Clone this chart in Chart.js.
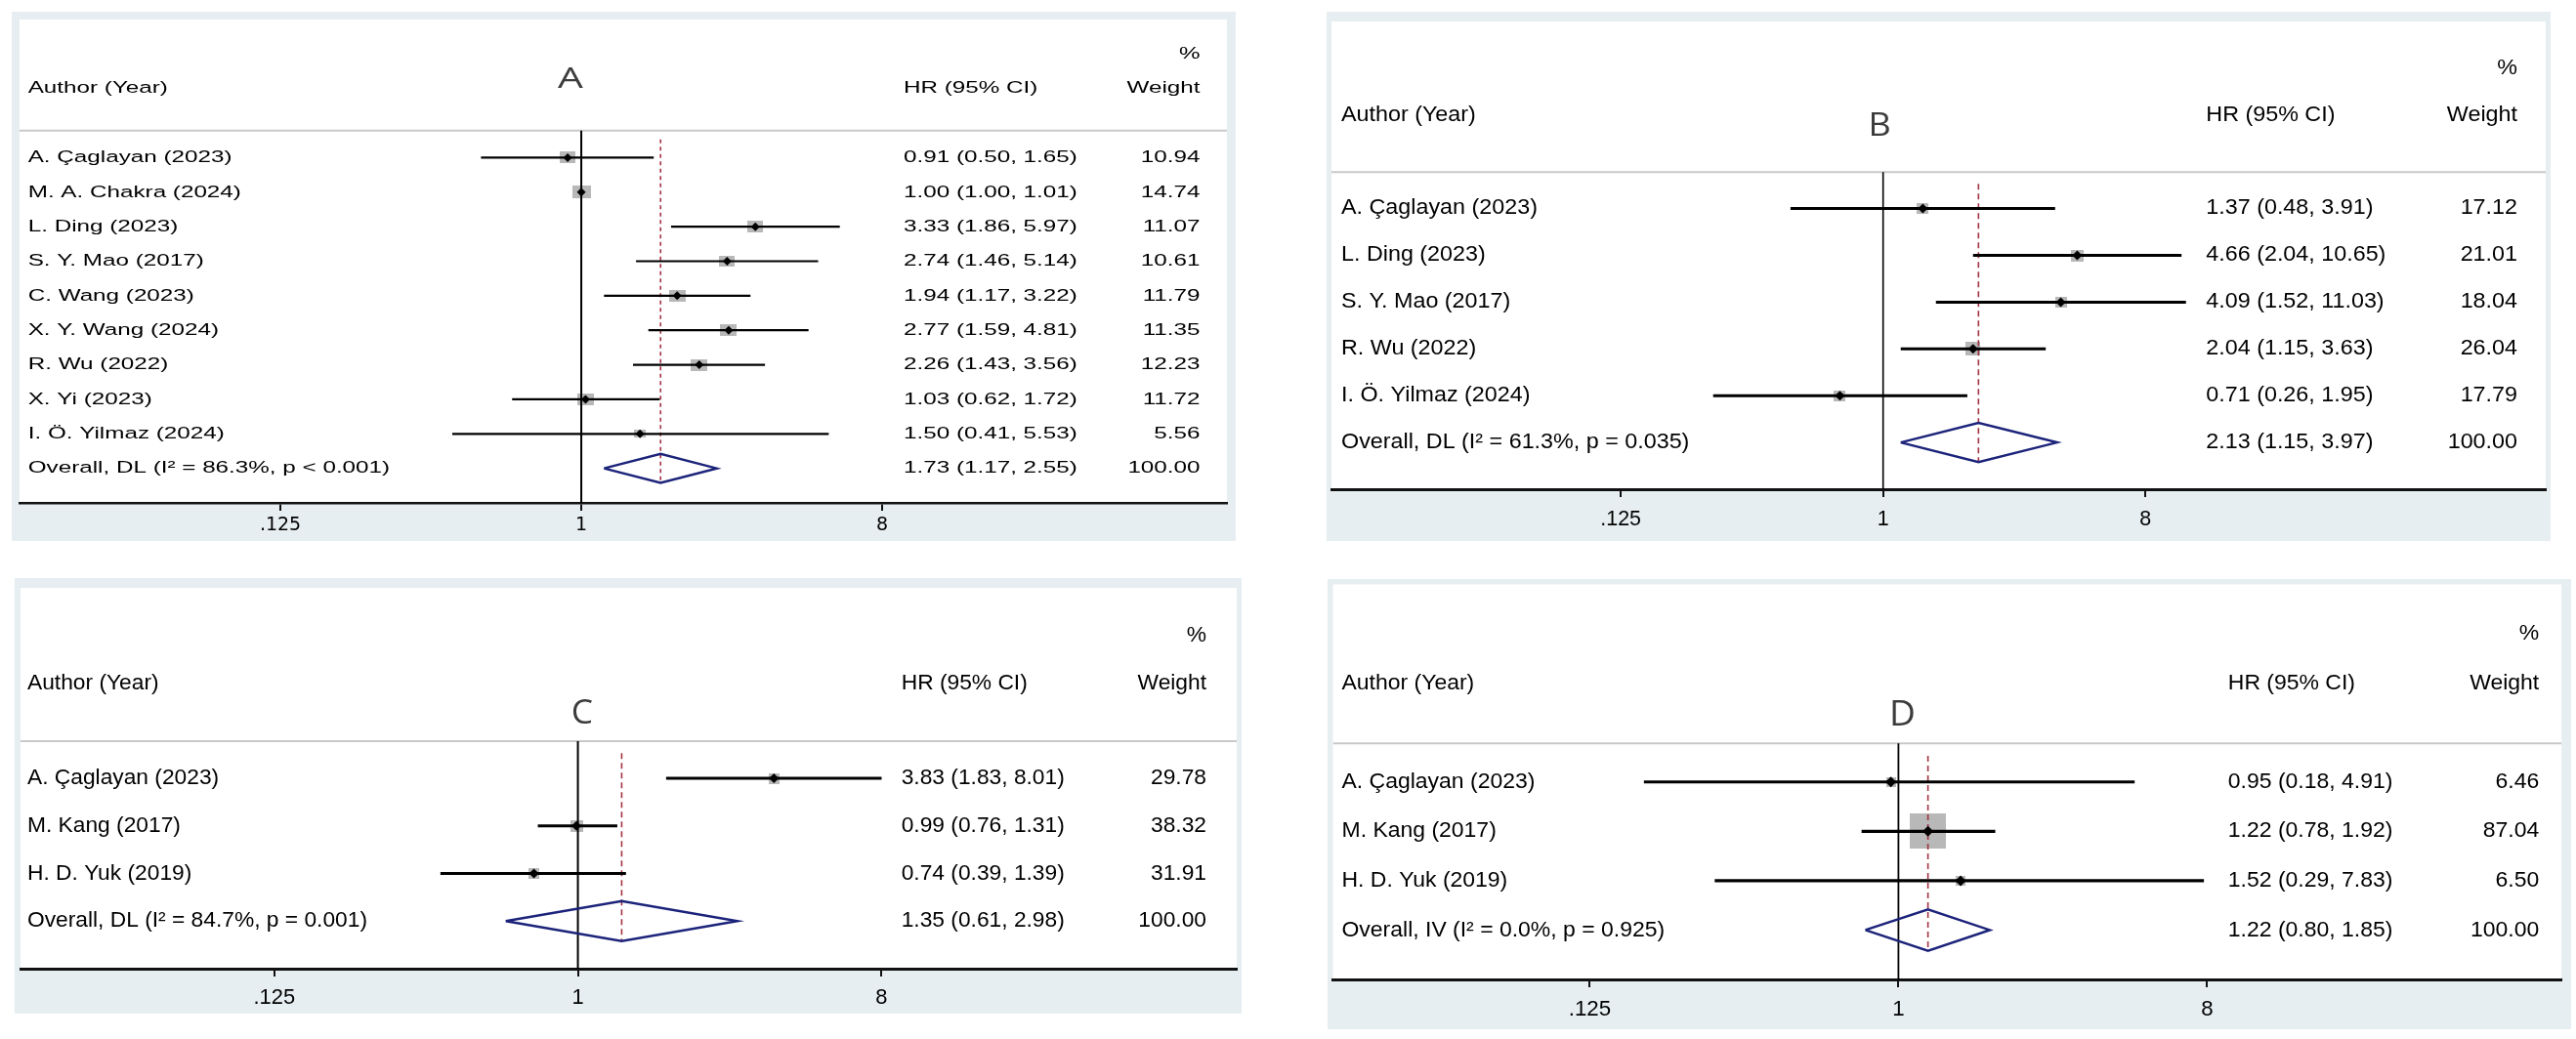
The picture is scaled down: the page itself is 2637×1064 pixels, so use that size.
<!DOCTYPE html>
<html>
<head>
<meta charset="utf-8">
<title>Forest plots A-D</title>
<script src="https://cdn.jsdelivr.net/npm/chart.js@4.4.1/dist/chart.umd.min.js"></script>
<style>
  html, body { margin: 0; padding: 0; background: #fff; }
  body { width: 2637px; height: 1064px; position: relative; overflow: hidden; }
  .panel { position: absolute; background: #e6eef1; }
  .panel canvas { display: block; }
</style>
</head>
<body>
<div class="panel" id="panelA"><canvas id="chartA"></canvas></div>
<div class="panel" id="panelB"><canvas id="chartB"></canvas></div>
<div class="panel" id="panelC"><canvas id="chartC"></canvas></div>
<div class="panel" id="panelD"><canvas id="chartD"></canvas></div>
<script>
// Panel A
const authorsA = ["A. Çaglayan (2023)", "M. A. Chakra (2024)", "L. Ding (2023)", "S. Y. Mao (2017)",
  "C. Wang (2023)", "X. Y. Wang (2024)", "R. Wu (2022)", "X. Yi (2023)", "I. Ö. Yilmaz (2024)"];
const hrA = [0.91, 1.00, 3.33, 2.74, 1.94, 2.77, 2.26, 1.03, 1.50];
const lowA = [0.50, 1.00, 1.86, 1.46, 1.17, 1.59, 1.43, 0.62, 0.41];
const highA = [1.65, 1.01, 5.97, 5.14, 3.22, 4.81, 3.56, 1.72, 5.53];
const weightA = [10.94, 14.74, 11.07, 10.61, 11.79, 11.35, 12.23, 11.72, 5.56];
const pooledA = [1.73, 1.17, 2.55];
const overallA = "Overall, DL (I² = 86.3%, p < 0.001)";

// Panel B
const authorsB = ["A. Çaglayan (2023)", "L. Ding (2023)", "S. Y. Mao (2017)", "R. Wu (2022)", "I. Ö. Yilmaz (2024)"];
const hrB = [1.37, 4.66, 4.09, 2.04, 0.71];
const lowB = [0.48, 2.04, 1.52, 1.15, 0.26];
const highB = [3.91, 10.65, 11.03, 3.63, 1.95];
const weightB = [17.12, 21.01, 18.04, 26.04, 17.79];
const pooledB = [2.13, 1.15, 3.97];
const overallB = "Overall, DL (I² = 61.3%, p = 0.035)";

// Panel C
const authorsC = ["A. Çaglayan (2023)", "M. Kang (2017)", "H. D. Yuk (2019)"];
const hrC = [3.83, 0.99, 0.74];
const lowC = [1.83, 0.76, 0.39];
const highC = [8.01, 1.31, 1.39];
const weightC = [29.78, 38.32, 31.91];
const pooledC = [1.35, 0.61, 2.98];
const overallC = "Overall, DL (I² = 84.7%, p = 0.001)";

// Panel D
const authorsD = ["A. Çaglayan (2023)", "M. Kang (2017)", "H. D. Yuk (2019)"];
const hrD = [0.95, 1.22, 1.52];
const lowD = [0.18, 0.78, 0.29];
const highD = [4.91, 1.92, 7.83];
const weightD = [6.46, 87.04, 6.50];
const pooledD = [1.22, 0.80, 1.85];
const overallD = "Overall, IV (I² = 0.0%, p = 0.925)";

const tickValues = [0.125, 1, 8];
const tickLabels = [".125", "1", "8"];
const panelLetters = ["A", "B", "C", "D"];

const BODY_FONT = '"Liberation Sans", Arial, sans-serif';
const WIDE_FONT = '"DejaVu Sans", "Liberation Sans", sans-serif';

// layout and look of each panel (page pixels)
const panels = [
  { key: "A", authors: authorsA, hr: hrA, low: lowA, high: highA, weight: weightA, pooled: pooledA, overall: overallA,
    rect: [12, 12, 1253, 542], pad: { left: 8, top: 8, right: 9 }, band: 39, xRange: [0.0206, 86.7],
    font: 17.2, stretch: 1.41, cols: [8.7, 905, 1208.5], letter: { x: 564, row: -1.26, size: 29 },
    tickFont: { family: WIDE_FONT, size: 19 }, tickPad: 3.5,
    boxScale: 3.5, marker: 4.5, ciWidth: 2.2, nullWidth: 2, axisWidth: 2.5, dash: [4, 3.5] },
  { key: "B", authors: authorsB, hr: hrB, low: lowB, high: highB, weight: weightB, pooled: pooledB, overall: overallB,
    rect: [1358, 12, 1253, 542], pad: { left: 4, top: 10, right: 4 }, band: 53, xRange: [0.01262, 191],
    font: 21.4, stretch: 1.09, cols: [10, 895.3, 1214], letter: { x: 561, row: -0.75, size: 33 },
    tickFont: { family: BODY_FONT, size: 21.4 }, tickPad: 10,
    boxScale: 2.7, marker: 5, ciWidth: 3, nullWidth: 1.6, axisWidth: 3, dash: [6, 4] },
  { key: "C", authors: authorsC, hr: hrC, low: lowC, high: highC, weight: weightC, pooled: pooledC, overall: overallC,
    rect: [15, 592, 1256, 446], pad: { left: 6, top: 10, right: 4 }, band: 46, xRange: [0.02197, 91.2],
    font: 21.9, stretch: 1.04, cols: [7, 901.7, 1214], letter: { x: 575, row: -0.35, size: 34 },
    tickFont: { family: BODY_FONT, size: 21.9 }, tickPad: 9,
    boxScale: 1.95, marker: 5, ciWidth: 3.2, nullWidth: 2, axisWidth: 3, dash: [6, 4] },
  { key: "D", authors: authorsD, hr: hrD, low: lowD, high: highD, weight: weightD, pooled: pooledD, overall: overallD,
    rect: [1359, 593, 1273, 461], pad: { left: 3, top: 4, right: 10 }, band: 51, xRange: [0.02215, 87.0],
    font: 22.3, stretch: 1.03, cols: [9, 916.3, 1234.7], letter: { x: 583, row: -0.35, size: 36 },
    tickFont: { family: BODY_FONT, size: 22.3 }, tickPad: 9.5,
    boxScale: 3.86, marker: 5.5, ciWidth: 3.2, nullWidth: 1.8, axisWidth: 3, dash: [6, 4] },
];

const HEADER_ROW = 0.22;
const DIAMOND_HALF = 0.42;

function fmtCI(est, lo, hi) {
  return `${est.toFixed(2)} (${lo.toFixed(2)}, ${hi.toFixed(2)})`;
}

// gray weight box, stretched like the rest of the panel
function boxImage(h, stretch) {
  const c = document.createElement("canvas");
  c.width = Math.max(1, Math.round(h * stretch));
  c.height = Math.max(1, Math.round(h));
  const g = c.getContext("2d");
  g.fillStyle = "#b8b8b8";
  g.fillRect(0, 0, c.width, c.height);
  return c;
}

// white plot region + the text columns
function makeTextPlugin(p, letter) {
  return {
    id: "forestText" + p.key,
    beforeDraw(chart) {
      const { ctx, chartArea: a } = chart;
      ctx.save();
      ctx.fillStyle = "#fff";
      ctx.fillRect(a.left, a.top, a.right - a.left, a.bottom - a.top);
      ctx.restore();
    },
    afterDraw(chart) {
      const { ctx, chartArea: a } = chart;
      const yScale = chart.scales.y;
      const put = (text, x, row, align) => {
        ctx.save();
        ctx.translate(a.left + x, yScale.getPixelForValue(row));
        ctx.scale(p.stretch, 1);
        ctx.textAlign = align;
        ctx.fillText(text, 0, 0);
        ctx.restore();
      };
      ctx.save();
      ctx.font = `${p.font}px ${BODY_FONT}`;
      ctx.fillStyle = "#000";
      ctx.textBaseline = "middle";
      put("%", p.cols[2], -2, "right");
      put("Author (Year)", p.cols[0], -1, "left");
      put("HR (95% CI)", p.cols[1], -1, "left");
      put("Weight", p.cols[2], -1, "right");
      p.authors.forEach((name, i) => {
        put(name, p.cols[0], i + 1, "left");
        put(fmtCI(p.hr[i], p.low[i], p.high[i]), p.cols[1], i + 1, "left");
        put(p.weight[i].toFixed(2), p.cols[2], i + 1, "right");
      });
      const n = p.authors.length + 1;
      put(p.overall, p.cols[0], n, "left");
      put(fmtCI(p.pooled[0], p.pooled[1], p.pooled[2]), p.cols[1], n, "left");
      put((100).toFixed(2), p.cols[2], n, "right");

      ctx.font = `${p.letter.size}px "Open Sans", ${BODY_FONT}`;
      ctx.fillStyle = "#3c3c3c";
      put(letter, p.letter.x, p.letter.row, "center");
      ctx.restore();
    }
  };
}

function line(points, color, width, order, dash) {
  return {
    data: points,
    showLine: true,
    borderColor: color,
    borderWidth: width,
    borderDash: dash || [],
    pointRadius: 0,
    fill: false,
    order: order
  };
}

panels.forEach((p, k) => {
  const holder = document.getElementById("panel" + p.key);
  holder.style.left = p.rect[0] + "px";
  holder.style.top = p.rect[1] + "px";
  holder.style.width = p.rect[2] + "px";
  holder.style.height = p.rect[3] + "px";
  const canvas = document.getElementById("chart" + p.key);
  canvas.width = p.rect[2];
  canvas.height = p.rect[3];

  const nStudies = p.authors.length;
  const overallRow = nStudies + 1;
  const datasets = [];

  // point estimates (black diamonds)
  datasets.push({
    data: p.hr.map((v, i) => ({ x: v, y: i + 1 })),
    pointStyle: "rectRot",
    pointRadius: p.marker,
    backgroundColor: "#000",
    borderWidth: 0,
    order: 0
  });

  // pooled estimate diamond
  const [est, lo, hi] = p.pooled;
  datasets.push(line([
    { x: lo, y: overallRow },
    { x: est, y: overallRow - DIAMOND_HALF },
    { x: hi, y: overallRow },
    { x: est, y: overallRow + DIAMOND_HALF },
    { x: lo, y: overallRow }
  ], "#1c237a", 2.5, 1));

  // confidence intervals
  p.hr.forEach((v, i) => {
    datasets.push(line([{ x: p.low[i], y: i + 1 }, { x: p.high[i], y: i + 1 }], "#000", p.ciWidth, 2));
  });

  // overall effect (dashed) and null line
  datasets.push(line([{ x: est, y: 0.47 }, { x: est, y: overallRow + DIAMOND_HALF }], "#a33242", 1.6, 3, p.dash));
  datasets.push(line([{ x: 1, y: HEADER_ROW }, { x: 1, y: nStudies + 2 }], "#000", p.nullWidth, 4));

  // weight boxes
  datasets.push({
    data: p.hr.map((v, i) => ({ x: v, y: i + 1 })),
    pointStyle: p.weight.map(w => boxImage(p.boxScale * Math.sqrt(w), p.stretch)),
    pointRadius: 3,
    borderWidth: 0,
    order: 5
  });

  // header rule
  datasets.push(line([{ x: p.xRange[0], y: HEADER_ROW }, { x: p.xRange[1], y: HEADER_ROW }], "#c9c9c9", 2, 6));

  new Chart(canvas, {
    type: "scatter",
    data: { datasets },
    options: {
      responsive: false,
      devicePixelRatio: 1,
      animation: false,
      events: [],
      layout: { padding: { left: p.pad.left, top: p.pad.top, right: p.pad.right, bottom: 0 } },
      plugins: { legend: { display: false }, tooltip: { enabled: false } },
      scales: {
        x: {
          type: "logarithmic",
          position: "bottom",
          min: p.xRange[0],
          max: p.xRange[1],
          afterBuildTicks: axis => { axis.ticks = tickValues.map(v => ({ value: v })); },
          afterFit: axis => { axis.height = p.band; },
          ticks: {
            autoSkip: false,
            maxRotation: 0,
            padding: p.tickPad,
            color: "#000",
            font: p.tickFont,
            callback: (value, index) => tickLabels[index]
          },
          grid: { drawOnChartArea: false, drawTicks: true, tickLength: 8, lineWidth: 2, color: "#111" },
          border: { display: true, color: "#111", width: p.axisWidth }
        },
        y: {
          type: "linear",
          display: false,
          reverse: true,
          min: -3,
          max: nStudies + 2
        }
      }
    },
    plugins: [makeTextPlugin(p, panelLetters[k])]
  });
});
</script>
</body>
</html>
